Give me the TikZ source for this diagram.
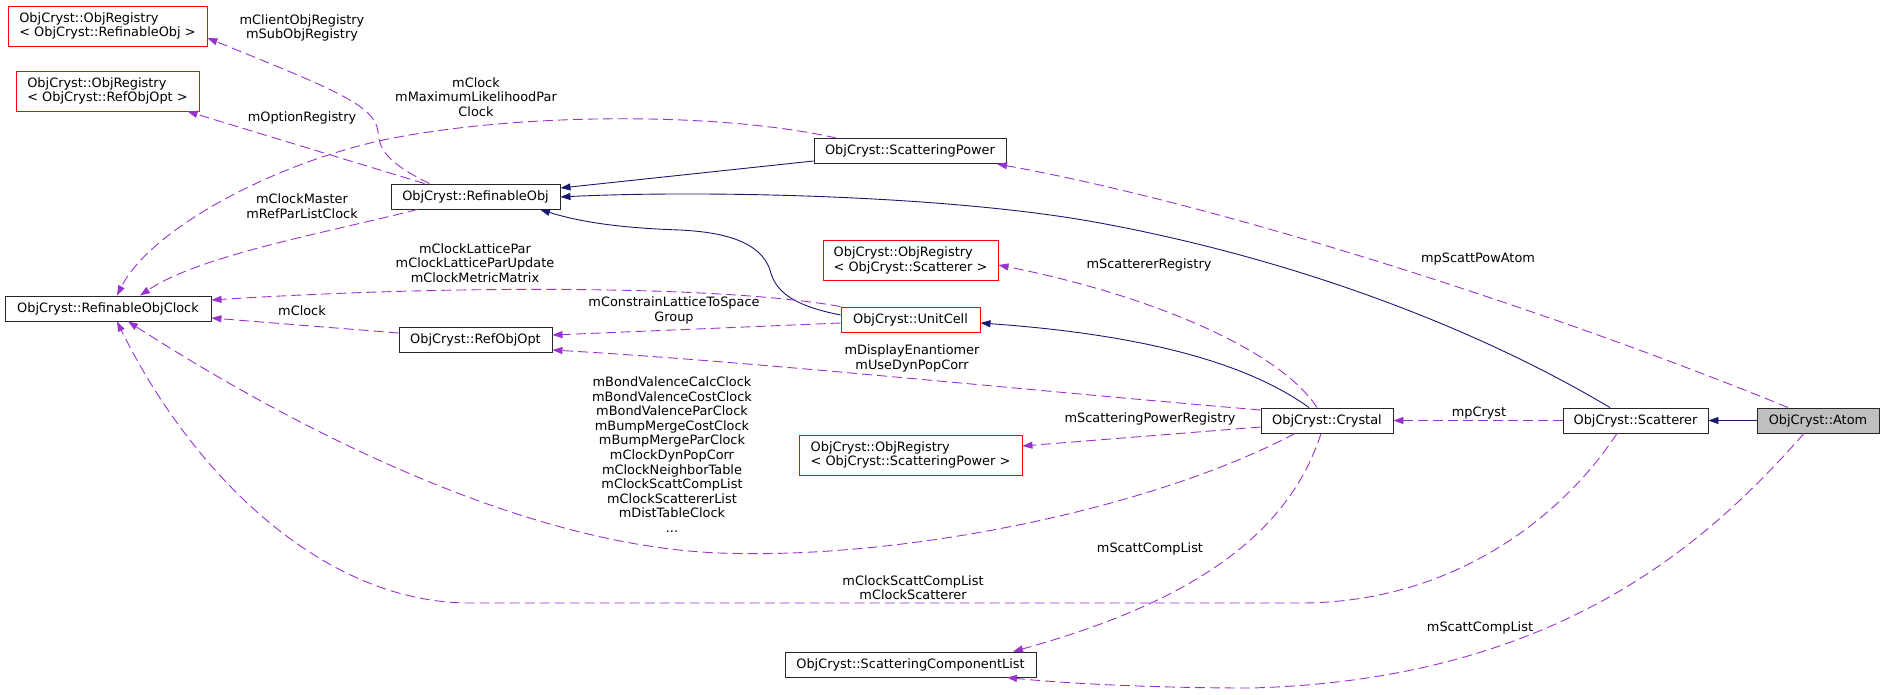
\documentclass[tikz,border=0pt]{standalone}
\usepackage{fontspec}
\setmainfont{DejaVu Sans}
\usepackage{xcolor}
\usepackage{tikz}
\usetikzlibrary{arrows.meta, calc}

\definecolor{edgepurple}{HTML}{9A32CD}
\definecolor{edgenavy}{HTML}{191970}

\begin{document}
\begin{tikzpicture}[
        x=1pt, y=-1pt,
        font=\fontsize{12.9}{14.6}\selectfont,
        box/.style={draw=black!85, rectangle, minimum height=25pt, inner sep=0pt, line width=0.9pt, align=left},
        redbox/.style={box, draw=red, minimum height=40pt},
        lbl/.style={align=center, inner sep=0pt},
        member/.style={draw=edgepurple, dash pattern=on 10pt off 5pt, line width=0.9pt, -{Triangle[length=10pt, width=7pt]}},
        inherit/.style={draw=edgenavy, line width=0.9pt, -{Triangle[length=10pt, width=7pt]}}
    ]
    \useasboundingbox (0,0) rectangle (1884,694);

    % Left column
    \node[redbox, minimum width=199pt] (regRefObj) at (107.5,26) {ObjCryst::ObjRegistry\\< ObjCryst::RefinableObj >};
    \node[redbox, minimum width=183pt] (regOpt) at (107.5,91) {ObjCryst::ObjRegistry\\< ObjCryst::RefObjOpt >};
    \node[box, minimum width=206pt] (clock) at (108,308.5) {ObjCryst::RefinableObjClock};

    % Second column
    \node[box, minimum width=169pt] (refobj) at (475.5,196.5) {ObjCryst::RefinableObj};
    \node[box, minimum width=153pt] (refopt) at (475.5,339.5) {ObjCryst::RefObjOpt};

    % Middle column
    \node[box, minimum width=192pt] (scattpow) at (910,151) {ObjCryst::ScatteringPower};
    \node[redbox, minimum width=175pt] (regScatt) at (910.5,260.5) {ObjCryst::ObjRegistry\\< ObjCryst::Scatterer >};
    \node[box, draw=red, minimum width=139pt] (unitcell) at (910.5,319.5) {ObjCryst::UnitCell};
    \node[redbox, minimum width=223pt] (regSP) at (910.5,455) {ObjCryst::ObjRegistry\\< ObjCryst::ScatteringPower >};
    \node[box, minimum width=251pt] (scl) at (910.5,664.5) {ObjCryst::ScatteringComponentList};

    % Right row
    \node[box, minimum width=132pt] (crystal) at (1327,420.5) {ObjCryst::Crystal};
    \node[box, minimum width=145pt] (scatterer) at (1635.5,420.5) {ObjCryst::Scatterer};
    \node[box, minimum width=122pt, fill=black!25] (atom) at (1818,420.5) {ObjCryst::Atom};

    % Inheritance
    \draw[inherit] ($(scattpow.west)+(0,10)$) -- ($(refobj.east)+(0,-8.5)$);
    \draw[inherit] ($(scatterer.north)+(-25.5,0)$) .. controls (1480,330) and (1300,260) .. (1100,223)
        .. controls (950,195) and (700,190) .. ($(refobj.east)+(0,0.5)$);
    \draw[inherit] ($(unitcell.west)+(0,-4.5)$) .. controls (790,305) and (775,290) .. (770,270)
        .. controls (760,240) and (720,232) .. (680,230) .. controls (620,228) and (580,222) .. ($(refobj.south)+(64.5,0)$);
    \draw[inherit] ($(crystal.north)+(-18,0)$) .. controls (1250,365) and (1150,335) .. ($(unitcell.east)+(0,3.5)$);
    \draw[inherit] (atom.west) -- (scatterer.east);

    % Members
    \draw[member] ($(refobj.north)+(-46,0)$) .. controls (392,165) and (379,152) .. (378,132)
        .. controls (376,105) and (330,88) .. ($(regRefObj.east)+(0,12)$);
    \draw[member] ($(refobj.north)+(-51,0)$) -- ($(regOpt.south)+(80,0)$);
    \draw[member] ($(scattpow.north west)+(23,0)$) .. controls (720,112) and (520,112) .. (383,140)
        .. controls (270,165) and (150,230) .. ($(clock.north)+(9,0)$);
    \draw[member] ($(refobj.south)+(-58,0)$) .. controls (330,232) and (200,255) .. ($(clock.north)+(32,0)$);
    \draw[member] (unitcell.north west) .. controls (720,285) and (450,285) .. ($(clock.east)+(0,-8.5)$);
    \draw[member] ($(refopt.west)+(0,-6.5)$) -- ($(clock.east)+(0,9.5)$);
    \draw[member] ($(unitcell.west)+(0,3.5)$) -- ($(refopt.east)+(0,-4.5)$);
    \draw[member] ($(crystal.west)+(0,-10.5)$) .. controls (1000,388) and (760,362) .. ($(refopt.east)+(0,10.5)$);
    \draw[member] ($(crystal.west)+(0,6.5)$) -- ($(regSP.east)+(0,-9)$);
    \draw[member] ($(crystal.south)+(-32,0)$) .. controls (1150,510) and (900,560) .. (720,553)
        .. controls (500,545) and (250,400) .. ($(clock.south)+(20,0)$);
    \draw[member] ($(scatterer.south)+(-18.5,0)$) .. controls (1560,520) and (1450,603) .. (1300,603) -- (470,603)
        .. controls (320,603) and (190,470) .. ($(clock.south)+(9,0)$);
    \draw[member] (scatterer.west) -- (crystal.east);
    \draw[member] ($(atom.north)+(-30,0)$) .. controls (1600,330) and (1250,210) .. ($(scattpow.south)+(87,0)$);
    \draw[member] ($(atom.south)+(-14,0)$) .. controls (1710,540) and (1560,680) .. (1250,688)
        .. controls (1150,688) and (1060,683) .. ($(scl.south)+(96.5,0)$);
    \draw[member] ($(crystal.south)+(-6,0)$) .. controls (1290,530) and (1200,600) .. ($(scl.north)+(102.5,0)$);
    \draw[member] ($(crystal.north)+(-10,0)$) .. controls (1280,350) and (1150,295) .. ($(regScatt.east)+(0,4.5)$);

    % Labels
    \node[lbl] (lclient) at (302,28) {mClientObjRegistry\\mSubObjRegistry};
    \node[lbl] (loption) at (302,118) {mOptionRegistry};
    \node[lbl] (lmlclock) at (476,97) {mClock\\mMaximumLikelihoodPar\\Clock};
    \node[lbl] (lmaster) at (302,206) {mClockMaster\\mRefParListClock};
    \node[lbl] (llattice) at (475,263) {mClockLatticePar\\mClockLatticeParUpdate\\mClockMetricMatrix};
    \node[lbl] (lclock) at (302,311) {mClock};
    \node[lbl] (lconstrain) at (674,310.5) {mConstrainLatticeToSpace\\Group};
    \node[lbl] (ldisplay) at (912,358.5) {mDisplayEnantiomer\\mUseDynPopCorr};
    \node[lbl] (lbond) at (672,454.5) {mBondValenceCalcClock\\mBondValenceCostClock\\mBondValenceParClock\\mBumpMergeCostClock\\mBumpMergeParClock\\mClockDynPopCorr\\mClockNeighborTable\\mClockScattCompList\\mClockScattererList\\mDistTableClock\\...};
    \node[lbl] (lregscatt) at (1149,265) {mScattererRegistry};
    \node[lbl] (lregsp) at (1150,419) {mScatteringPowerRegistry};
    \node[lbl] (lcomp) at (1150,549) {mScattCompList};
    \node[lbl] (lclockscatt) at (913,587.5) {mClockScattCompList\\mClockScatterer};
    \node[lbl] (lcryst) at (1479,413) {mpCryst};
    \node[lbl] (lpow) at (1478,259) {mpScattPowAtom};
    \node[lbl] (lcompatom) at (1480,628) {mScattCompList};

\end{tikzpicture}
\end{document}
